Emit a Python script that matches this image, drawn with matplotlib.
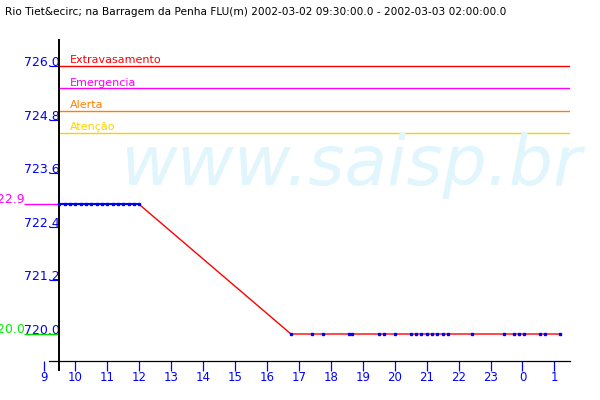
import matplotlib
matplotlib.use("Agg")
import matplotlib.pyplot as plt

# ---------------- data ----------------
title = ("Rio Tiet&ecirc; na Barragem da Penha FLU(m) "
         "2002-03-02 09:30:00.0 - 2002-03-03 02:00:00.0")

# readings at the start (high level) -- blue segment
high_times = ["09:30", "09:40", "09:50", "10:00", "10:10", "10:20", "10:30",
              "10:40", "10:50", "11:00", "11:10", "11:20", "11:30", "11:40",
              "11:50", "12:00"]
high_levels = [722.9] * len(high_times)

# readings after the drop
low_times = ["16:45", "17:25", "17:45", "18:35", "18:40", "19:30", "19:40",
             "20:00", "20:30", "20:40", "20:50", "21:00", "21:10", "21:20",
             "21:30", "21:40", "22:25", "23:25", "23:44", "23:53", "00:02",
             "00:33", "00:43", "01:10"]
low_levels = [720.0] * len(low_times)

threshold_names = ["Extravasamento", "Emergencia", "Alerta", "Atenção"]
threshold_values = [726.0, 725.5, 725.0, 724.5]
threshold_colors = ["#ff0000", "#ff00ff", "#ff8000", "#ffd000"]

current_value = 722.9   # magenta marker on the left
minimum_value = 720.0   # green marker on the left

y_ticks = [720.0, 721.2, 722.4, 723.6, 724.8, 726.0]
x_ticks = list(range(9, 26))
x_tick_labels = [str(h % 24) for h in x_ticks]


def to_hours(t):
    h, m = t.split(":")
    v = int(h) + int(m) / 60.0
    if v < 9:
        v += 24
    return v


hx = [to_hours(t) for t in high_times]
lx = [to_hours(t) for t in low_times]

# ---------------- layout ----------------
W, H = 600, 400
px_per_hour = 31.93
x0_px = 43.5          # pixel of hour 9
t_start = 9.5
x_left = 9 - x0_px / px_per_hour
x_right = 9 + (570 - x0_px) / px_per_hour
ax_bottom_px, ax_top_px = 360.7, 40.0
y_scale = 44.67  # px per metre
y_low = 720.0 - (ax_bottom_px - 334) / y_scale
y_high = 726.0 + (66 - ax_top_px) / y_scale

fig = plt.figure(figsize=(6, 4), dpi=100)
ax = fig.add_axes([0, 1 - ax_bottom_px / H, 570 / W,
                   (ax_bottom_px - ax_top_px) / H])
ax.set_xlim(x_left, x_right)
ax.set_ylim(y_low, y_high)

# watermark
fig.text(351 / W, 1 - 185 / H, "www.saisp.br", fontsize=50, style="italic",
         color="#e1f5fd", ha="center", va="baseline", zorder=0)

for s in ("top", "right"):
    ax.spines[s].set_visible(False)
ax.spines["left"].set_position(("data", t_start))
ax.spines["left"].set_bounds(720.0 - (370 - 334) / y_scale, y_high)
ax.spines["left"].set_linewidth(1.4)
ax.spines["bottom"].set_bounds(9 + (49 - x0_px) / px_per_hour, x_right)
ax.spines["bottom"].set_linewidth(0.9)

ax.set_yticks(y_ticks)
ax.set_yticklabels([f"{v:.1f}" for v in y_ticks])
ax.tick_params(axis="y", colors="#0000ff", length=7.2, width=0.8,
               direction="out", pad=-7.2, labelsize=9)
for lab in ax.get_yticklabels():
    lab.set_verticalalignment("baseline")

ax.set_xticks(x_ticks)
ax.set_xticklabels(x_tick_labels)
ax.tick_params(axis="x", colors="#0000ff", length=7.2, width=0.9,
               direction="out", pad=0.5, labelsize=8.5)

# thresholds
for name, val, col in zip(threshold_names, threshold_values, threshold_colors):
    ax.hlines(val, t_start, x_right, colors=col, linewidth=1.0, zorder=2)
    ax.annotate(name, xy=(t_start, val), xytext=(7.2, 0.5),
                textcoords="offset points", color=col, fontsize=8,
                ha="left", va="bottom")

# data
ax.plot(hx, high_levels, color="#0000ff", linewidth=1.5, zorder=3)
ax.plot([hx[-1]] + lx, [high_levels[-1]] + low_levels, color="#ff0000",
        linewidth=1.0, zorder=3)
ax.plot(hx + lx, high_levels + low_levels, linestyle="none", marker="s",
        markersize=1.8, color="#0000ff", zorder=4)

# left-margin markers
m_left = t_start - 35 / px_per_hour
ax.hlines(current_value, m_left, t_start, colors="#ff00ff", linewidth=1.0,
          clip_on=False)
ax.annotate(f"{current_value:.1f}", xy=(m_left, current_value),
            xytext=(0, 1), textcoords="offset points", color="#ff00ff",
            fontsize=9, ha="right", va="baseline", annotation_clip=False)
ax.hlines(minimum_value, m_left, t_start, colors="#00dd00", linewidth=1.0,
          clip_on=False)
ax.annotate(f"{minimum_value:.1f}", xy=(m_left, minimum_value),
            xytext=(0, 1), textcoords="offset points", color="#00ee00",
            fontsize=9, ha="right", va="baseline", annotation_clip=False)

fig.text(5 / W, 1 - 15 / H, title, fontsize=7.6, ha="left", va="baseline")

fig.savefig("out.png", dpi=100)
